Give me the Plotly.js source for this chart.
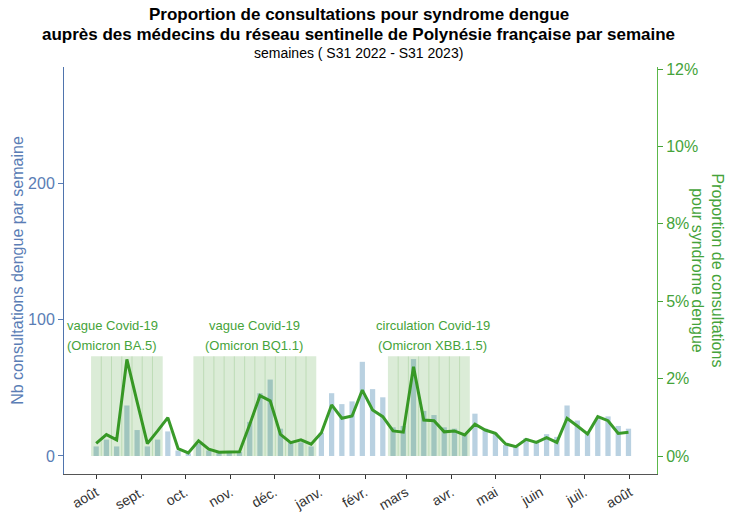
<!DOCTYPE html>
<html>
<head>
<meta charset="utf-8">
<script src="https://cdn.plot.ly/plotly-3.0.1.min.js"></script>
<style>html,body{margin:0;padding:0;background:#fff;}#chart{width:732px;height:512px;}</style>
</head>
<body>
<div id="chart"></div>
<script>
// Weeks S31 2022 - S31 2023 (Monday of each ISO week)
const weeks = [
  "2022-08-01","2022-08-08","2022-08-15","2022-08-22","2022-08-29","2022-09-05","2022-09-12","2022-09-19","2022-09-26",
  "2022-10-03","2022-10-10","2022-10-17","2022-10-24","2022-10-31","2022-11-07","2022-11-14","2022-11-21","2022-11-28",
  "2022-12-05","2022-12-12","2022-12-19","2022-12-26",
  "2023-01-02","2023-01-09","2023-01-16","2023-01-23","2023-01-30","2023-02-06","2023-02-13","2023-02-20","2023-02-27",
  "2023-03-06","2023-03-13","2023-03-20","2023-03-27","2023-04-03","2023-04-10","2023-04-17","2023-04-24",
  "2023-05-01","2023-05-08","2023-05-15","2023-05-22","2023-05-29","2023-06-05","2023-06-12","2023-06-19","2023-06-26",
  "2023-07-03","2023-07-10","2023-07-17","2023-07-24","2023-07-31"
];
// Weekly number of dengue consultations (bars, left axis)
const nbConsultations = [
  7,12,7,37,19,7,12,18,4,2,9,4,3,3,3,25,46,56,20,10,10,7,
  17,46,38,40,69,49,43,21,22,71,33,30,21,20,16,31,20,17,
  8,7,13,10,16,14,37,26,17,27,29,22,20
];
// Proportion of consultations for dengue syndrome, % (line, right axis)
const proportionPct = [
  0.41,0.69,0.52,3.12,1.75,0.40,0.81,1.24,0.24,0.10,0.49,0.22,0.12,0.14,0.14,1.02,1.95,1.78,0.70,0.43,0.52,0.38,
  0.75,1.65,1.22,1.29,2.13,1.49,1.27,0.81,0.77,2.88,1.16,1.14,0.78,0.81,0.68,1.03,0.84,0.73,
  0.39,0.30,0.54,0.44,0.59,0.44,1.22,0.97,0.71,1.27,1.14,0.73,0.77
];
// Month ticks
const monthTicks = ["2022-08-01","2022-09-01","2022-10-01","2022-11-01","2022-12-01","2023-01-01","2023-02-01",
  "2023-03-01","2023-04-01","2023-05-01","2023-06-01","2023-07-01","2023-08-01"];
const monthLabels = ["août","sept.","oct.","nov.","déc.","janv.","févr.","mars","avr.","mai","juin","juil.","août"];
// Right axis ticks
const pctTicks = [0,2.5,5,7.5,10,12.5];
const pctLabels = ["0%","2%","5%","8%","10%","12%"];
const countTicks = [0,100,200];
// Covid-19 periods (week index ranges) and labels
const covidStart = [0,10,29];
const covidEnd = [6,21,36];
const covidLine1 = ["vague Covid-19","vague Covid-19","circulation Covid-19"];
const covidLine2 = ["(Omicron BA.5)","(Omicron BQ1.1)","(Omicron XBB.1.5)"];
const covidLabelDate = ["2022-08-12","2022-11-17","2023-03-19"];
const covidTop = 73;

const FONT = "Liberation Sans, Arial, sans-serif";
const BLUE = "#5a7db5";
const GREEN = "#45a33a";
const LINEGREEN = "#3a9b2a";
const DAY = 864e5;
const fmt = t => new Date(t).toISOString().slice(0,10) + " " + new Date(t).toISOString().slice(11,19);

const shapes = [];
const annotations = [];
for (let b = 0; b < covidStart.length; b++) {
  const x0 = new Date(weeks[covidStart[b]]).getTime() - 3.5*DAY;
  const x1 = new Date(weeks[covidEnd[b]]).getTime() + 3.5*DAY;
  shapes.push({type:"rect", xref:"x", yref:"y", x0:fmt(x0), x1:fmt(x1), y0:0, y1:covidTop,
    fillcolor:"rgba(40,140,20,0.17)", line:{width:0}, layer:"above"});
  for (let i = covidStart[b]; i < covidEnd[b]; i++) {
    const xb = new Date(weeks[i]).getTime() + 3.5*DAY;
    shapes.push({type:"line", xref:"x", yref:"y", x0:fmt(xb), x1:fmt(xb), y0:0, y1:covidTop,
      line:{color:"rgba(60,150,40,0.18)", width:1}, layer:"above"});
  }
  annotations.push({xref:"x", yref:"y", x:covidLabelDate[b], y:95.3, text:covidLine1[b], showarrow:false,
    font:{family:FONT, size:13, color:GREEN}, xanchor:"center", yanchor:"middle"});
  annotations.push({xref:"x", yref:"y", x:covidLabelDate[b], y:81.3, text:covidLine2[b], showarrow:false,
    font:{family:FONT, size:13, color:GREEN}, xanchor:"center", yanchor:"middle"});
}
// titles
annotations.push({xref:"paper", yref:"paper", x:0.497, y:1.128, text:"<b>Proportion de consultations pour syndrome dengue</b>",
  showarrow:false, font:{family:FONT, size:17, color:"#000"}, xanchor:"center", yanchor:"middle"});
annotations.push({xref:"paper", yref:"paper", x:0.497, y:1.0800, text:"<b>auprès des médecins du réseau sentinelle de Polynésie française par semaine</b>",
  showarrow:false, font:{family:FONT, size:17, color:"#000"}, xanchor:"center", yanchor:"middle"});
annotations.push({xref:"paper", yref:"paper", x:0.497, y:1.0344, text:"semaines ( S31 2022 - S31 2023)",
  showarrow:false, font:{family:FONT, size:14, color:"#000"}, xanchor:"center", yanchor:"middle"});
// right axis title
annotations.push({xref:"paper", yref:"paper", x:1.086, y:0.5, text:"Proportion de consultations<br>pour syndrome dengue",
  textangle:90, showarrow:false, font:{family:FONT, size:16, color:GREEN}, xanchor:"center", yanchor:"middle"});

const data = [
  {type:"bar", x:weeks, y:nbConsultations, yaxis:"y", marker:{color:"#b9d1e1"}, width:3.6*DAY, hoverinfo:"x+y"},
  {type:"scatter", mode:"lines", x:weeks, y:proportionPct, yaxis:"y2", line:{color:LINEGREEN, width:3}, hoverinfo:"x+y"}
];

const layout = {
  width:732, height:512,
  margin:{l:64, r:75, t:67, b:38},
  paper_bgcolor:"#fff", plot_bgcolor:"#fff",
  showlegend:false,
  font:{family:FONT},
  xaxis:{type:"date", range:["2022-07-10","2023-08-19 12:00"], tickvals:monthTicks, ticktext:monthLabels,
    tickangle:-30, ticks:"outside", ticklen:4, tickcolor:"#333", tickwidth:1,
    showline:true, linecolor:"#555", linewidth:1, showgrid:false, zeroline:false,
    tickfont:{family:FONT, size:14, color:"#333"}},
  yaxis:{range:[-13.2,285], tickvals:countTicks, ticks:"outside", ticklen:5, tickcolor:BLUE,
    showline:true, linecolor:"#4f74ad", linewidth:1, showgrid:false, zeroline:false,
    tickfont:{family:FONT, size:16, color:BLUE},
    title:{text:"Nb consultations dengue par semaine", font:{family:FONT, size:16, color:BLUE}, standoff:0}},
  yaxis2:{overlaying:"y", side:"right", range:[-0.581,12.565], tickvals:pctTicks, ticktext:pctLabels,
    ticks:"outside", ticklen:5, tickcolor:GREEN, showline:true, linecolor:"#5cb84a", linewidth:1,
    showgrid:false, zeroline:false, tickfont:{family:FONT, size:16, color:GREEN}},
  bargap:0.5,
  shapes:shapes,
  annotations:annotations
};

Plotly.newPlot("chart", data, layout, {staticPlot:true, displayModeBar:false});
</script>
</body>
</html>
